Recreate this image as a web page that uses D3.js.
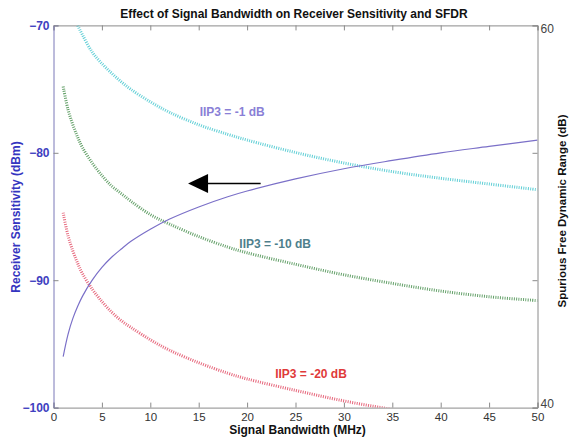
<!DOCTYPE html>
<html>
<head>
<meta charset="utf-8">
<script src="https://cdn.jsdelivr.net/npm/d3@7"></script>
<style>
  body { margin: 0; background: #fff; }
  svg { font-family: "Liberation Sans", Arial, sans-serif; }
</style>
</head>
<body>
<script>
// Signal bandwidth (MHz) sample points
const bandwidth = [1, 1.5, 2, 2.5, 3, 4, 5, 6, 7, 8, 10, 12, 15, 18, 20, 25, 30, 35, 40, 45, 50];

// Receiver sensitivity (dBm), left axis
const sensitivity = [-96, -94.25, -93, -92.05, -91.25, -90, -89, -88.2, -87.55, -86.95, -86, -85.2, -84.25, -83.45, -83, -82.05, -81.25, -80.6, -80, -79.5, -79];

// SFDR (dB), right axis, one series per IIP3
const sfdrIip3m1 = [62.65, 61.5, 60.65, 60, 59.5, 58.6, 58, 57.5, 57.05, 56.65, 56, 55.45, 54.8, 54.3, 54, 53.35, 52.8, 52.35, 52, 51.7, 51.4];
const sfdrIip3m10 = [56.8, 55.6, 54.8, 54.15, 53.6, 52.8, 52.15, 51.6, 51.2, 50.8, 50.1, 49.6, 48.95, 48.4, 48.1, 47.5, 46.95, 46.5, 46.1, 45.8, 45.6];
const sfdrIip3m20 = [50.2, 49, 48.2, 47.55, 47, 46.2, 45.55, 45, 44.55, 44.2, 43.55, 43, 42.35, 41.8, 41.5, 40.9, 40.35, 39.9, 39.5, 39.2, 38.9];

const xTicks = [0, 5, 10, 15, 20, 25, 30, 35, 40, 45, 50];
const leftTicks = [-100, -90, -80, -70];
const rightTicks = [40, 60];

const seriesLabels = [
  { text: "IIP3 = -1 dB", x: 15.1, y: 55.4, color: "#8a7fd6" },
  { text: "IIP3 = -10 dB", x: 19.2, y: 48.5, color: "#4f7f8c" },
  { text: "IIP3 = -20 dB", x: 22.9, y: 41.7, color: "#e03a3a" }
];
// arrow in data units (left axis): tail -> tip
const arrow = { x1: 21.4, x2: 13.9, y: -82.4 };

const W = 569, H = 437;
const margin = { top: 25.4, right: 31.5, bottom: 29.4, left: 53.5 };
const width = W - margin.left - margin.right;
const height = H - margin.top - margin.bottom;

const svg = d3.select("body").append("svg")
  .attr("width", W).attr("height", H);

const g = svg.append("g")
  .attr("transform", `translate(${margin.left},${margin.top})`);

const x = d3.scaleLinear().domain([0, 50]).range([0, width]);
const yLeft = d3.scaleLinear().domain([-100, -70]).range([height, 0]);
const yRight = d3.scaleLinear().domain([40, 60]).range([height, 0]);

g.append("clipPath").attr("id", "plot")
  .append("rect").attr("width", width).attr("height", height);

// title
svg.append("text")
  .attr("x", 294).attr("y", 18)
  .attr("text-anchor", "middle")
  .attr("font-size", 12).attr("font-weight", "bold").attr("fill", "#111")
  .text("Effect of Signal Bandwidth on Receiver Sensitivity and SFDR");

// axes
const axBottom = g.append("g").attr("transform", `translate(0,${height})`)
  .call(d3.axisBottom(x).tickValues(xTicks).tickSize(-5).tickPadding(5));
axBottom.selectAll("text").attr("font-size", 11.5).attr("fill", "#333")
  .attr("font-family", "Liberation Sans, Arial, sans-serif");

const axTop = g.append("g")
  .call(d3.axisTop(x).tickValues(xTicks).tickSize(-5).tickFormat(""));

const axLeft = g.append("g")
  .call(d3.axisLeft(yLeft).tickValues(leftTicks).tickSize(-5).tickPadding(4));
axLeft.selectAll("text").attr("font-size", 12).attr("font-weight", "bold").attr("fill", "#4040c0")
  .attr("font-family", "Liberation Sans, Arial, sans-serif");

const axRight = g.append("g").attr("transform", `translate(${width},0)`)
  .call(d3.axisRight(yRight).tickValues(rightTicks).tickSize(-5).tickPadding(3));
axRight.selectAll("text").attr("font-size", 12).attr("fill", "#444")
  .attr("font-family", "Liberation Sans, Arial, sans-serif");
axRight.selectAll(".tick").filter(d => d === 40).select("text").attr("dy", "-0.05em");
axRight.selectAll(".tick").filter(d => d === 60).select("text").attr("dy", "0.55em");

// mirrored left ticks on right side
g.append("g").attr("transform", `translate(${width},0)`)
  .call(d3.axisRight(yLeft).tickValues([-90, -80]).tickSize(-5).tickFormat(""))
  .select(".domain").remove();

[axBottom, axTop, axRight].forEach(a => {
  a.select(".domain").attr("stroke", "#8a8a8a");
});
axLeft.select(".domain").attr("stroke", "#7a78b8");
g.selectAll(".tick line").attr("stroke", "#8a8a8a");

// axis titles
svg.append("text")
  .attr("x", margin.left + width / 2 + 2).attr("y", 434)
  .attr("text-anchor", "middle")
  .attr("font-size", 12).attr("font-weight", "bold").attr("fill", "#111")
  .text("Signal Bandwidth (MHz)");

svg.append("text")
  .attr("transform", `translate(20,217) rotate(-90)`)
  .attr("text-anchor", "middle")
  .attr("font-size", 12).attr("font-weight", "bold").attr("fill", "#3535c0")
  .text("Receiver Sensitivity (dBm)");

svg.append("text")
  .attr("transform", `translate(566,211) rotate(-90)`)
  .attr("text-anchor", "middle")
  .attr("font-size", 11.5).attr("font-weight", "bold").attr("fill", "#111")
  .text("Spurious Free Dynamic Range (dB)");

// curves
const plot = g.append("g").attr("clip-path", "url(#plot)");

const lineLeft = d3.line().x((d, i) => x(bandwidth[i])).y(d => yLeft(d)).curve(d3.curveCatmullRom);
const lineRight = d3.line().x((d, i) => x(bandwidth[i])).y(d => yRight(d)).curve(d3.curveCatmullRom);

const dotted = [
  { data: sfdrIip3m1, color: "#39c3cc" },
  { data: sfdrIip3m10, color: "#3f8a45" },
  { data: sfdrIip3m20, color: "#e0405a" }
];
dotted.forEach(s => {
  plot.append("path")
    .attr("d", lineRight(s.data))
    .attr("fill", "none")
    .attr("stroke", s.color)
    .attr("stroke-width", 3)
    .attr("stroke-dasharray", "1,1.3")
    .attr("opacity", 0.8);
});

plot.append("path")
  .attr("d", lineLeft(sensitivity))
  .attr("fill", "none")
  .attr("stroke", "#7b70c8")
  .attr("stroke-width", 1.2);

// labels
seriesLabels.forEach(l => {
  g.append("text")
    .attr("x", x(l.x)).attr("y", yRight(l.y))
    .attr("dominant-baseline", "middle")
    .attr("font-size", 12).attr("font-weight", "bold").attr("fill", l.color)
    .text(l.text);
});

// arrow
const ay = yLeft(arrow.y), tipX = x(arrow.x2);
g.append("line")
  .attr("x1", x(arrow.x1)).attr("x2", tipX + 15)
  .attr("y1", ay).attr("y2", ay)
  .attr("stroke", "#000").attr("stroke-width", 1.5);
g.append("path")
  .attr("d", `M${tipX},${ay} L${tipX + 20},${ay - 9.5} L${tipX + 20},${ay + 9.5} Z`)
  .attr("fill", "#000");
</script>
</body>
</html>
